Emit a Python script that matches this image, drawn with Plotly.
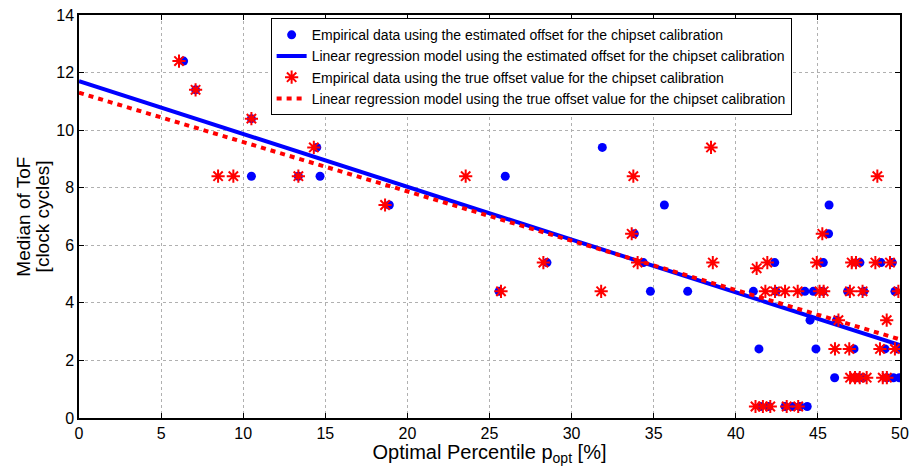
import plotly.graph_objects as go

# Empirical medians of ToF vs. optimal percentile, estimated chipset offset
est_x = [6.37, 7.1, 10.5, 14.48, 10.5, 13.36, 14.68, 18.9, 25.96, 31.87,
         33.82, 28.5, 34.37, 25.58, 34.8, 35.65, 45.68, 45.65, 42.37, 45.33,
         47.56, 48.84, 49.53, 37.07, 41.07, 42.45, 44.21, 44.72, 45.3, 46.81,
         47.8, 49.69, 44.52, 46.14, 41.41, 44.88, 47.2, 49.09, 49.84, 46.02,
         47.36, 47.75, 49.19, 49.6, 49.96, 41.5, 42.0, 43.0, 43.5, 43.9, 44.35]
est_y = [12.4, 11.4, 10.4, 9.4, 8.4, 8.4, 8.4, 7.4, 8.4, 9.4,
         6.4, 5.4, 5.4, 4.4, 4.4, 7.4, 7.4, 6.4, 5.4, 5.4,
         5.4, 5.4, 5.4, 4.4, 4.4, 4.4, 4.4, 4.4, 4.4, 4.4,
         4.4, 4.4, 3.4, 3.4, 2.4, 2.4, 2.4, 2.4, 2.4, 1.4,
         1.4, 1.4, 1.4, 1.4, 1.4, 0.4, 0.4, 0.4, 0.4, 0.4, 0.4]

# Empirical medians of ToF vs. optimal percentile, true chipset offset
true_x = [6.09, 7.1, 10.5, 14.3, 8.47, 9.4, 13.36, 18.64, 23.55, 33.76,
          33.66, 28.28, 34.02, 25.7, 31.8, 38.49, 48.62, 45.27, 38.6, 41.92,
          44.93, 47.06, 47.32, 48.5, 49.39, 41.27, 41.8, 42.39, 43.0, 43.77,
          45.1, 45.35, 46.95, 47.72, 49.9, 46.25, 49.19, 46.04, 46.91, 48.78,
          49.69, 46.96, 47.26, 47.55, 47.97, 48.95, 49.2, 41.2, 41.65, 42.1,
          43.1, 43.8]
true_y = [12.4, 11.4, 10.4, 9.4, 8.4, 8.4, 8.4, 7.4, 8.4, 8.4,
          6.4, 5.4, 5.4, 4.4, 4.4, 9.4, 8.4, 6.4, 5.4, 5.4,
          5.4, 5.4, 5.4, 5.4, 5.4, 5.2, 4.4, 4.4, 4.4, 4.4,
          4.4, 4.4, 4.4, 4.4, 4.4, 3.4, 3.4, 2.4, 2.4, 2.4,
          2.4, 1.4, 1.4, 1.4, 1.4, 1.4, 1.4, 0.4, 0.4, 0.4,
          0.4, 0.4]

# Linear regression models (intercept, slope)
est_intercept, est_slope = 11.7, -0.1834
true_intercept, true_slope = 11.3, -0.1714
fit_x = [0, 50]

x_ticks = [0, 5, 10, 15, 20, 25, 30, 35, 40, 45, 50]
y_ticks = [0, 2, 4, 6, 8, 10, 12, 14]
y_title_lines = ["Median of ToF", "[clock cycles]"]

FONT = "Liberation Sans, Arial, Helvetica, sans-serif"

fig = go.Figure()
fig.add_trace(go.Scatter(
    x=est_x, y=est_y, mode="markers",
    marker=dict(symbol="circle", size=9, color="#0000ff", line=dict(width=0)),
    name="Empirical data using the estimated offset for the chipset calibration"))
fig.add_trace(go.Scatter(
    x=fit_x, y=[est_intercept + est_slope * v for v in fit_x], mode="lines",
    line=dict(color="#0000ff", width=4),
    name="Linear regression model using the estimated offset for the chipset calibration"))
fig.add_trace(go.Scatter(
    x=true_x, y=true_y, mode="markers",
    marker=dict(symbol="asterisk-open", size=11, color="#ff0000",
                line=dict(width=2, color="#ff0000")),
    name="Empirical data using the true offset value for the chipset calibration"))
fig.add_trace(go.Scatter(
    x=fit_x, y=[true_intercept + true_slope * v for v in fit_x], mode="lines",
    line=dict(color="#ff0000", width=4, dash="5px,5px"),
    name="Linear regression model using the true offset value for the chipset calibration"))

axis_common = dict(
    showline=True, linecolor="black", linewidth=1.5, mirror="ticks",
    ticks="inside", ticklen=5, tickcolor="black", automargin=False,
    showgrid=True, gridcolor="#b0b0b0", griddash="dot", gridwidth=1,
    zeroline=False, tickfont=dict(family=FONT, size=16, color="black"),
)

# two-line y-axis title, drawn as rotated annotations with tight line spacing
for xpos, line_text in zip([-0.068, -0.044], y_title_lines):
    fig.add_annotation(
        x=xpos, y=0.5, xref="paper", yref="paper", xanchor="center",
        yanchor="middle", text=line_text, textangle=-90, showarrow=False,
        font=dict(family=FONT, size=19, color="black"))

fig.update_layout(
    width=911, height=466,
    margin=dict(l=79, r=11, t=15, b=48),
    paper_bgcolor="white", plot_bgcolor="white",
    font=dict(family=FONT, color="black"),
    showlegend=True,
    legend=dict(
        x=0.868, y=0.992, xanchor="right", yanchor="top",
        bgcolor="white", bordercolor="black", borderwidth=1,
        font=dict(family=FONT, size=14, color="black"),
        tracegroupgap=0, itemwidth=30,
    ),
    xaxis=dict(range=[0, 50], tickvals=x_ticks, **axis_common,
               title=dict(text="Optimal Percentile p<sub>opt</sub> [%]",
                          font=dict(family=FONT, size=20), standoff=4)),
    yaxis=dict(range=[0, 14], tickvals=y_ticks, **axis_common),
)

fig.write_html("out.html")
